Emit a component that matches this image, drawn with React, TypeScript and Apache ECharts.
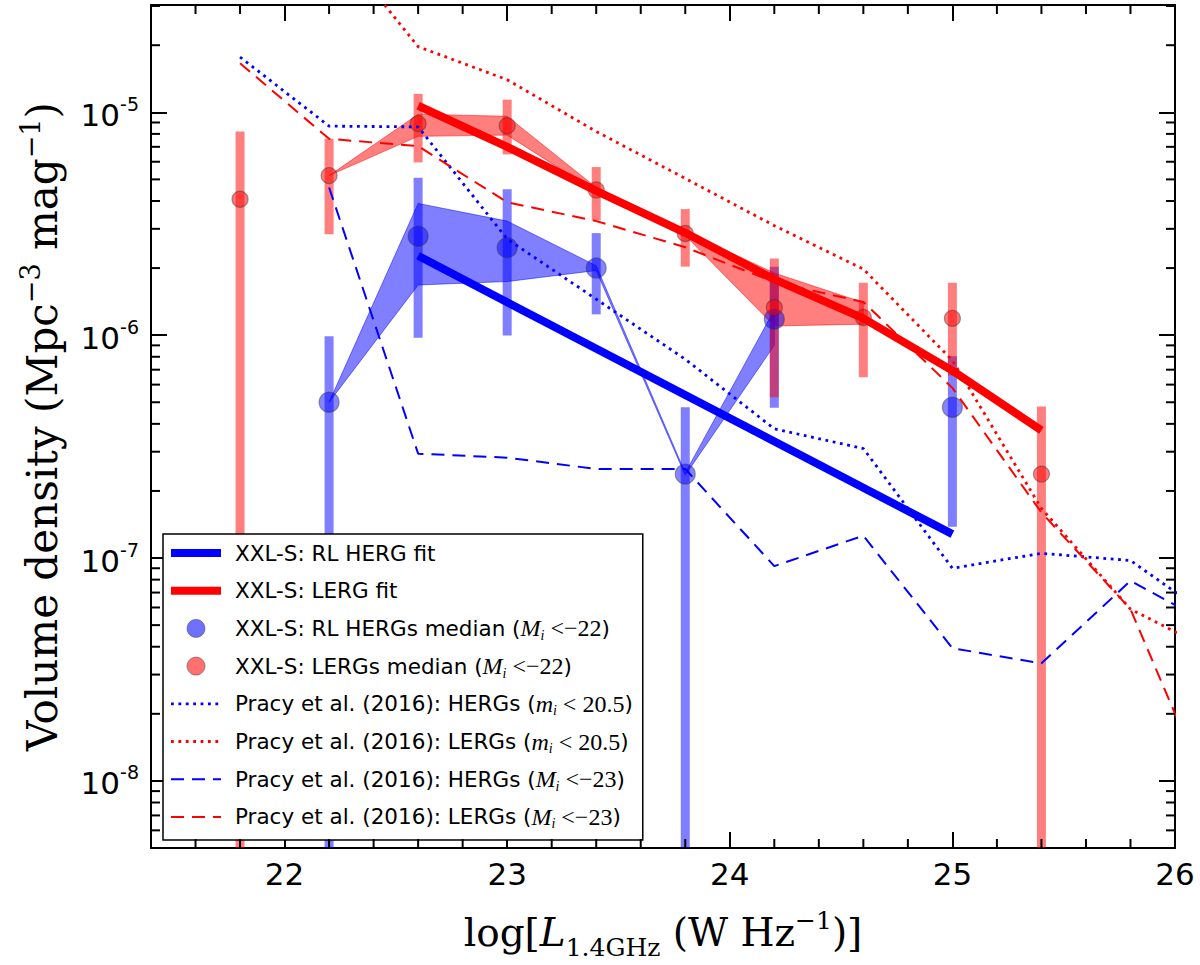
import React, { useEffect, useRef } from 'react';
import * as echarts from 'echarts';

// ---- axes ----
const X_MIN = 21.4;
const X_MAX = 26;
const Y_MIN = 5e-9;
const Y_MAX = 3.03e-5;

// ---- XXL-S RL HERGs median (blue) ----
const hergX = [22.2, 22.6, 23.0, 23.4, 23.8, 24.2, 25.0];
const hergMed = [5.0e-7, 2.78e-6, 2.47e-6, 2.0e-6, 2.38e-7, 1.18e-6, 4.75e-7];
const hergUp = [9.9e-7, 5.08e-6, 4.52e-6, 2.87e-6, 4.75e-7, 2.03e-6, 8.05e-7];
const hergLo: (number | null)[] = [null, 9.73e-7, 9.96e-7, 1.24e-6, null, 4.72e-7, 1.38e-7];

// ---- XXL-S LERGs median (red) ----
const lergX = [21.8, 22.2, 22.6, 23.0, 23.4, 23.8, 24.2, 24.6, 25.0, 25.4];
const lergMed = [4.07e-6, 5.2e-6, 8.9e-6, 8.7e-6, 4.48e-6, 2.86e-6, 1.33e-6, 1.2e-6, 1.19e-6, 2.38e-7];
const lergUp = [8.2e-6, 7.6e-6, 1.21e-5, 1.14e-5, 5.68e-6, 3.68e-6, 2.21e-6, 1.72e-6, 1.72e-6, 4.78e-7];
const lergLo: (number | null)[] = [null, 2.84e-6, 5.96e-6, 6.47e-6, 3.27e-6, 2.03e-6, 5.27e-7, 6.48e-7, 6.6e-7, null];

// ---- shaded bands ----
const hergBandX = [22.2, 22.6, 23.0, 23.4, 23.8, 24.2];
const hergBandUp = [5.0e-7, 3.9e-6, 3.25e-6, 2.05e-6, 2.41e-7, 1.3e-6];
const hergBandLo = [5.0e-7, 1.68e-6, 1.74e-6, 1.95e-6, 2.35e-7, 9.0e-7];
const lergBandX = [22.2, 22.6, 23.0, 23.4, 23.8, 24.2, 24.6];
const lergBandUp = [5.2e-6, 9.8e-6, 9.6e-6, 4.6e-6, 2.92e-6, 1.9e-6, 1.4e-6];
const lergBandLo = [5.2e-6, 7.8e-6, 7.9e-6, 4.4e-6, 2.8e-6, 1.1e-6, 1.12e-6];

// ---- fits ----
const hergFitX = [22.6, 25.0];
const hergFitY = [2.27e-6, 1.28e-7];
const lergFitX = [22.6, 23.0, 23.4, 23.8, 24.2, 24.6, 25.0, 25.4];
const lergFitY = [1.07e-5, 7.0e-6, 4.44e-6, 2.88e-6, 1.78e-6, 1.19e-6, 6.93e-7, 3.74e-7];

// ---- Pracy et al. (2016) ----
const pracyX = [21.8, 22.2, 22.6, 23.0, 23.4, 23.8, 24.2, 24.6, 25.0, 25.4, 25.8, 26.2];
const pracyHergBright = [1.77e-5, 8.67e-6, 8.6e-6, 2.7e-6, 1.45e-6, 7.8e-7, 3.8e-7, 3.1e-7, 9.0e-8, 1.05e-7, 9.75e-8, 5.1e-8];
const pracyLergBright = [9.0e-5, 6.2e-5, 1.97e-5, 1.4e-5, 8.2e-6, 5.05e-6, 3.1e-6, 1.98e-6, 7.7e-7, 1.67e-7, 5.9e-8, 3.7e-8];
const pracyHergLum: (number | null)[] = [null, 4.6e-6, 2.94e-7, 2.82e-7, 2.51e-7, 2.51e-7, 9.2e-8, 1.26e-7, 3.94e-8, 3.37e-8, 7.9e-8, 4.8e-8];
const pracyLergLum = [1.66e-5, 7.6e-6, 7.05e-6, 3.95e-6, 3.25e-6, 2.48e-6, 1.73e-6, 1.41e-6, 5.8e-7, 1.6e-7, 5.9e-8, 6.8e-9];

const N_HFIT = 'XXL-S: RL HERG fit';
const N_LFIT = 'XXL-S: LERG fit';
const N_HMED = 'XXL-S: RL HERGs median (Mi<-22)';
const N_LMED = 'XXL-S: LERGs median (Mi<-22)';
const N_PHB = 'Pracy et al. (2016): HERGs (mi<20.5)';
const N_PLB = 'Pracy et al. (2016): LERGs (mi<20.5)';
const N_PHL = 'Pracy et al. (2016): HERGs (Mi<-23)';
const N_PLL = 'Pracy et al. (2016): LERGs (Mi<-23)';

const legendText: Record<string, string> = {
  [N_HFIT]: '{t|XXL-S: RL HERG fit}',
  [N_LFIT]: '{t|XXL-S: LERG fit}',
  [N_HMED]: '{t|XXL-S: RL HERGs median (}{m|M}{s|i}{r| <−22}{t|)}',
  [N_LMED]: '{t|XXL-S: LERGs median (}{m|M}{s|i}{r| <−22}{t|)}',
  [N_PHB]: '{t|Pracy et al. (2016): HERGs (}{m|m}{s|i}{r| < 20.5}{t|)}',
  [N_PLB]: '{t|Pracy et al. (2016): LERGs (}{m|m}{s|i}{r| < 20.5}{t|)}',
  [N_PHL]: '{t|Pracy et al. (2016): HERGs (}{m|M}{s|i}{r| <−23}{t|)}',
  [N_PLL]: '{t|Pracy et al. (2016): LERGs (}{m|M}{s|i}{r| <−23}{t|)}',
};

const RED = '#ff0000';
const BLUE = '#0000ff';
const SANS = '"DejaVu Sans", sans-serif';
const SERIF = '"DejaVu Serif", "Liberation Serif", serif';
const MATH = '"Liberation Serif", "DejaVu Serif", serif';
const DOT: number[] = [2.8, 4.6];
const DASH: number[] = [13, 8];

function pairs(xs: number[], ys: (number | null)[]) {
  return xs.map((x, i) => [x, ys[i]]).filter((p) => p[1] !== null);
}

function errSeries(name: string, xs: number[], med: number[], up: number[], lo: (number | null)[], color: string, z: number) {
  return {
    type: 'custom',
    name,
    clip: true,
    z,
    silent: true,
    encode: { x: 0, y: 1 },
    data: xs.map((x, i) => [x, med[i], up[i], lo[i] === null ? Y_MIN * 0.5 : lo[i]]),
    renderItem: (params: any, api: any) => {
      const x = api.value(0);
      const top = api.coord([x, api.value(2)]);
      const bot = api.coord([x, api.value(3)]);
      return {
        type: 'rect',
        shape: { x: top[0] - 4.5, y: top[1], width: 9, height: bot[1] - top[1] },
        style: { fill: color },
      };
    },
  };
}

function bandSeries(name: string, xs: number[], up: number[], lo: number[], color: string) {
  return {
    type: 'custom',
    name,
    clip: true,
    z: 1,
    silent: true,
    encode: { x: 0, y: 1 },
    data: [[xs[0], up[0]]],
    renderItem: (params: any, api: any) => {
      const pts: number[][] = [];
      for (let i = 0; i < xs.length; i++) pts.push(api.coord([xs[i], up[i]]));
      for (let i = xs.length - 1; i >= 0; i--) pts.push(api.coord([xs[i], lo[i]]));
      return { type: 'polygon', shape: { points: pts }, style: { fill: color, stroke: color, lineWidth: 1 } };
    },
  };
}

// minor tick positions (axis furniture)
const xMinorTicks: number[] = [];
for (let k = 107; k <= 130; k++) {
  const v = Math.round(k * 2) / 10;
  if (Math.abs(v - Math.round(v)) > 1e-6 && v > X_MIN && v < X_MAX) xMinorTicks.push(v);
}
const yMinorTicks: number[] = [];
for (let d = -9; d <= -5; d++) {
  for (let m = 2; m <= 9; m++) {
    const v = m * Math.pow(10, d);
    if (v > Y_MIN && v < Y_MAX) yMinorTicks.push(v);
  }
}

function lineSeries(name: string, xs: number[], ys: (number | null)[], color: string, width: number, type: any, z: number) {
  return {
    type: 'line',
    name,
    data: pairs(xs, ys),
    showSymbol: false,
    symbol: 'none',
    clip: true,
    z,
    lineStyle: { color, width, type, cap: 'butt' },
    itemStyle: { color },
  };
}

export default function App() {
  const ref = useRef<HTMLDivElement>(null);
  useEffect(() => {
    if (!ref.current) return;
    const chart = echarts.init(ref.current, undefined, { renderer: 'svg' });
    const axisLine = { show: true, lineStyle: { color: '#000', width: 2 } };
    const majorTick = { show: true, inside: true, length: 16, lineStyle: { color: '#000', width: 2 } };
    const yLabelRich = {
      b: { fontFamily: SANS, fontSize: 31, color: '#000', lineHeight: 36, verticalAlign: 'bottom' },
      s: { fontFamily: SANS, fontSize: 19, color: '#000', lineHeight: 20, verticalAlign: 'top' },
    };
    const lineLegend = (name: string, width: number, type: any) => ({
      name,
      itemStyle: { opacity: 0 },
      lineStyle: { width, type },
    });
    const option: any = {
      animation: false,
      backgroundColor: '#fff',
      grid: { left: 151, right: 25, top: 5, bottom: 114, containLabel: false },
      xAxis: [
        {
          type: 'value',
          min: X_MIN,
          max: X_MAX,
          position: 'bottom',
          axisLine,
          axisTick: majorTick,
          splitLine: { show: false },
          axisLabel: {
            margin: 10,
            fontFamily: SANS,
            fontSize: 31,
            color: '#000',
            formatter: (v: number) => (Math.abs(v - Math.round(v)) < 1e-6 ? String(Math.round(v)) : ''),
          },
          name: '{r|log[}{i|L}{sub|1.4GHz}{r| (W Hz}{sup|−1}{r|)]}',
          nameLocation: 'middle',
          nameGap: 60,
          nameTextStyle: {
            rich: {
              r: { fontFamily: SERIF, fontSize: 39, color: '#000', lineHeight: 48, verticalAlign: 'middle' },
              i: { fontFamily: SERIF, fontStyle: 'italic', fontSize: 39, color: '#000', lineHeight: 48, verticalAlign: 'middle' },
              sub: { fontFamily: SERIF, fontSize: 25, color: '#000', lineHeight: 20, padding: [27, 0, 0, 0], verticalAlign: 'top' },
              sup: { fontFamily: SERIF, fontSize: 25, color: '#000', lineHeight: 22, verticalAlign: 'top' },
            },
          },
        },
        {
          type: 'value',
          min: X_MIN,
          max: X_MAX,
          position: 'top',
          axisLine,
          axisTick: majorTick,
          splitLine: { show: false },
          axisLabel: { show: false },
        },
      ],
      yAxis: [
        {
          type: 'log',
          logBase: 10,
          min: Y_MIN,
          max: Y_MAX,
          position: 'left',
          axisLine,
          axisTick: majorTick,
          splitLine: { show: false },
          axisLabel: {
            margin: 12,
            formatter: (v: number) => {
              const e = Math.log10(v);
              const r = Math.round(e);
              if (Math.abs(e - r) > 1e-6) return '';
              return '{b|10}{s|' + r + '}';
            },
            rich: yLabelRich,
          },
          name: '{r|Volume density (Mpc}{sup|−3}{r| mag}{sup|−1}{r|)}',
          nameLocation: 'middle',
          nameGap: 84,
          nameTextStyle: {
            rich: {
              r: { fontFamily: SERIF, fontSize: 42, color: '#000', lineHeight: 50, verticalAlign: 'middle' },
              sup: { fontFamily: SERIF, fontSize: 27, color: '#000', lineHeight: 24, verticalAlign: 'top' },
            },
          },
        },
        {
          type: 'log',
          logBase: 10,
          min: Y_MIN,
          max: Y_MAX,
          position: 'right',
          axisLine,
          axisTick: majorTick,
          splitLine: { show: false },
          axisLabel: { show: false },
        },
      ],
      legend: {
        show: true,
        orient: 'vertical',
        left: 163,
        top: 534,
        padding: [4, 10, 8, 4],
        itemGap: 7.7,
        itemWidth: 50,
        itemHeight: 18,
        backgroundColor: '#fff',
        borderColor: '#000',
        borderWidth: 1.5,
        borderRadius: 0,
        selectedMode: false,
        data: [
          lineLegend(N_HFIT, 8, 'solid'),
          lineLegend(N_LFIT, 8, 'solid'),
          { name: N_HMED, icon: 'circle', itemStyle: { color: 'rgba(0,0,255,0.7)', borderColor: 'rgba(60,60,60,0.6)', borderWidth: 1 } },
          { name: N_LMED, icon: 'circle', itemStyle: { color: 'rgba(255,0,0,0.7)', borderColor: 'rgba(60,60,60,0.6)', borderWidth: 1 } },
          lineLegend(N_PHB, 2.8, DOT),
          lineLegend(N_PLB, 2.8, DOT),
          lineLegend(N_PHL, 2, DASH),
          lineLegend(N_PLL, 2, DASH),
        ],
        formatter: (name: string) => legendText[name] || name,
        textStyle: {
          padding: [0, 0, 0, 9],
          lineHeight: 30,
          height: 30,
          rich: {
            t: { fontFamily: SANS, fontSize: 21.5, color: '#000', lineHeight: 30, verticalAlign: 'middle' },
            m: { fontFamily: MATH, fontStyle: 'italic', fontSize: 24, color: '#000', lineHeight: 30, verticalAlign: 'middle' },
            s: { fontFamily: MATH, fontStyle: 'italic', fontSize: 14, color: '#000', lineHeight: 14, padding: [15, 0, 0, 0], verticalAlign: 'top' },
            r: { fontFamily: MATH, fontSize: 24, color: '#000', lineHeight: 30, verticalAlign: 'middle' },
          },
        },
      },
      series: [
        bandSeries('hergBand', hergBandX, hergBandUp, hergBandLo, 'rgba(0,0,255,0.5)'),
        bandSeries('lergBand', lergBandX, lergBandUp, lergBandLo, 'rgba(255,0,0,0.5)'),
        errSeries('hergErr', hergX, hergMed, hergUp, hergLo, 'rgba(0,0,255,0.5)', 3),
        errSeries('lergErr', lergX, lergMed, lergUp, lergLo, 'rgba(255,0,0,0.5)', 3),
        {
          type: 'scatter',
          name: N_HMED,
          data: pairs(hergX, hergMed),
          symbol: 'circle',
          symbolSize: 20,
          z: 4,
          itemStyle: { color: 'rgba(0,0,255,0.6)', borderColor: 'rgba(50,50,50,0.55)', borderWidth: 1.2 },
        },
        {
          type: 'scatter',
          name: N_LMED,
          data: pairs(lergX, lergMed),
          symbol: 'circle',
          symbolSize: 16,
          z: 4,
          itemStyle: { color: 'rgba(255,0,0,0.65)', borderColor: 'rgba(50,50,50,0.55)', borderWidth: 1.2 },
        },
        lineSeries(N_HFIT, hergFitX, hergFitY, BLUE, 8, 'solid', 5),
        lineSeries(N_LFIT, lergFitX, lergFitY, RED, 8, 'solid', 5),
        lineSeries(N_PHB, pracyX, pracyHergBright, BLUE, 2.8, DOT, 6),
        lineSeries(N_PLB, pracyX, pracyLergBright, RED, 2.8, DOT, 6),
        lineSeries(N_PHL, pracyX, pracyHergLum, BLUE, 2, DASH, 6),
        lineSeries(N_PLL, pracyX, pracyLergLum, RED, 2, DASH, 6),
        {
          type: 'custom',
          name: 'minorTicks',
          silent: true,
          z: 10,
          encode: { x: 0, y: 1 },
          data: [
            ...xMinorTicks.map((v) => [22, 1e-7, v, 0]),
            ...yMinorTicks.map((v) => [22, 1e-7, v, 1]),
          ],
          renderItem: (params: any, api: any) => {
            const v = api.value(2);
            const kind = api.value(3);
            const st = { stroke: '#000', lineWidth: 2 };
            if (kind === 0) {
              const b = api.coord([v, Y_MIN]);
              const t = api.coord([v, Y_MAX]);
              return {
                type: 'group',
                children: [
                  { type: 'line', shape: { x1: b[0], y1: b[1], x2: b[0], y2: b[1] - 9 }, style: st },
                  { type: 'line', shape: { x1: t[0], y1: t[1], x2: t[0], y2: t[1] + 9 }, style: st },
                ],
              };
            }
            const l = api.coord([X_MIN, v]);
            const r = api.coord([X_MAX, v]);
            return {
              type: 'group',
              children: [
                { type: 'line', shape: { x1: l[0], y1: l[1], x2: l[0] + 9, y2: l[1] }, style: st },
                { type: 'line', shape: { x1: r[0], y1: r[1], x2: r[0] - 9, y2: r[1] }, style: st },
              ],
            };
          },
        },
      ],
    };
    chart.setOption(option);
    return () => chart.dispose();
  }, []);
  return <div ref={ref} style={{ position: 'fixed', left: 0, top: 0, width: 1200, height: 965, background: '#fff' }} />;
}
